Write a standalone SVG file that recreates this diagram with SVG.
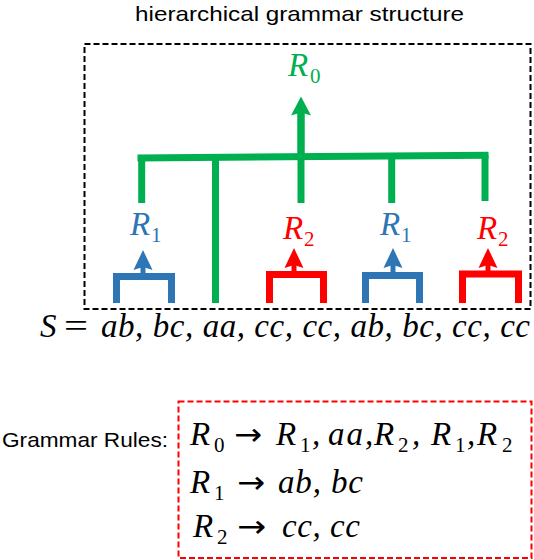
<svg xmlns="http://www.w3.org/2000/svg" xmlns:xlink="http://www.w3.org/1999/xlink" width="534" height="560" viewBox="0 0 534 560">
<style>
.sans{font-family:"Liberation Sans","Noto Sans",Arial,sans-serif;fill:#000}
.m{font-family:"Liberation Serif","DejaVu Serif",serif;font-size:33px;font-style:italic}
.up{font-style:normal}
.arr{font-family:"DejaVu Sans","Liberation Sans",sans-serif;font-size:31px;font-style:normal}
.sub{font-family:"Liberation Serif","DejaVu Serif",serif;font-size:21px;font-style:normal}
.g{stroke:#00B050;fill:none}
.b{stroke:#2E75B6;fill:none}
.r{stroke:#FF0000;fill:none}
.thick{stroke-width:7;stroke-linecap:butt;stroke-linejoin:miter}
.stem{stroke-width:5}
.gt{fill:#00B050}
.bt{fill:#2E75B6}
.rt{fill:#FF0000}
.box{fill:none;stroke-width:2;stroke-dasharray:6 3}
</style>
<defs>
<path id="headS" d="M0 0 L9.5 20 L0 17 L-9.5 20 Z"/>
<path id="headL" d="M0 0 L10 19 L0 16 L-10 19 Z"/>
</defs>

<g id="title">
<text class="sans" x="135" y="20.5" font-size="21" textLength="329" lengthAdjust="spacingAndGlyphs">hierarchical grammar structure</text>
</g>

<g id="structure-frame">
<rect class="box" x="84.5" y="44" width="446" height="265" stroke="#000"/>
</g>

<g id="connectors">
<!-- green top level -->
<line class="g thick" x1="137.5" y1="158" x2="488.5" y2="155.2"/>
<line class="g thick" x1="141.7" y1="158" x2="141.7" y2="203"/>
<line class="g thick" x1="215.5" y1="157.4" x2="215.5" y2="303"/>
<line class="g thick" x1="301" y1="156.7" x2="301" y2="203"/>
<line class="g thick" x1="391.7" y1="156" x2="391.7" y2="203"/>
<line class="g thick" x1="485" y1="155.3" x2="485" y2="201"/>
<line class="g" stroke-width="7.5" x1="301" y1="157" x2="301" y2="110"/>
<use xlink:href="#headL" x="301" y="96.5" class="gt"/>
<!-- blue bracket 1 -->
<path class="b thick" d="M116.5 303 V276.5 H171.5 V303"/>
<line class="b stem" x1="143" y1="274" x2="143" y2="265"/>
<use xlink:href="#headS" x="143" y="250" class="bt"/>
<!-- red bracket 1 -->
<path class="r thick" stroke-width="7.5" d="M269.5 303 V274.5 H323.5 V303"/>
<line class="r stem" x1="294" y1="272" x2="294" y2="263"/>
<use xlink:href="#headS" x="294" y="248" class="rt"/>
<!-- blue bracket 2 -->
<path class="b thick" d="M365.5 303 V275.5 H419.5 V303"/>
<line class="b stem" x1="393" y1="273" x2="393" y2="263"/>
<use xlink:href="#headS" x="393" y="248" class="bt"/>
<!-- red bracket 2 -->
<path class="r thick" stroke-width="7.5" d="M462.5 303 V274 H518.5 V303"/>
<line class="r stem" x1="488" y1="271" x2="488" y2="263"/>
<use xlink:href="#headS" x="488" y="248" class="rt"/>
</g>

<g id="label-R0">
<text class="m" x="288" y="76" fill="#00B050">R</text>
<text class="sub" x="310" y="82.5" fill="#00B050">0</text>
</g>
<g id="label-R1-a">
<text class="m" x="130" y="235" fill="#2E75B6">R</text>
<text class="sub" x="151" y="242" fill="#2E75B6">1</text>
</g>
<g id="label-R2-a">
<text class="m" x="283" y="239" fill="#FF0000">R</text>
<text class="sub" x="304" y="246" fill="#FF0000">2</text>
</g>
<g id="label-R1-b">
<text class="m" x="380" y="235" fill="#2E75B6">R</text>
<text class="sub" x="401" y="242" fill="#2E75B6">1</text>
</g>
<g id="label-R2-b">
<text class="m" x="477" y="239" fill="#FF0000">R</text>
<text class="sub" x="498" y="246" fill="#FF0000">2</text>
</g>

<g id="sequence">
<text class="m" x="40" y="337">S</text>
<text class="m up" x="64" y="337" textLength="24" lengthAdjust="spacingAndGlyphs">=</text>
<text class="m" x="101" y="337" textLength="429">ab, bc, aa, cc, cc, ab, bc, cc, cc</text>
</g>

<g id="grammar-label">
<text class="sans" x="2" y="447" font-size="21" textLength="166" lengthAdjust="spacingAndGlyphs">Grammar Rules:</text>
</g>

<g id="grammar-rules">
<rect class="box" x="178.5" y="401.5" width="353" height="156.5" stroke="#FF0000"/>
<!-- line 1 -->
<text class="m" x="190" y="445">R</text>
<text class="sub" x="214" y="451.5">0</text>
<text class="arr" x="234" y="445" textLength="28" lengthAdjust="spacingAndGlyphs">→</text>
<text class="m" x="276" y="445">R</text>
<text class="sub" x="300" y="451.5">1</text>
<text class="m" x="312" y="445">,</text>
<text class="m" x="328" y="445" textLength="35">aa</text>
<text class="m" x="365" y="445">,</text>
<text class="m" x="374" y="445">R</text>
<text class="sub" x="398" y="451.5">2</text>
<text class="m" x="412" y="445">,</text>
<text class="m" x="431" y="445">R</text>
<text class="sub" x="455" y="451.5">1</text>
<text class="m" x="467" y="445">,</text>
<text class="m" x="477" y="445">R</text>
<text class="sub" x="502" y="451.5">2</text>
<!-- line 2 -->
<text class="m" x="190" y="493">R</text>
<text class="sub" x="214" y="500">1</text>
<text class="arr" x="237" y="493" textLength="28" lengthAdjust="spacingAndGlyphs">→</text>
<text class="m" x="278" y="493" textLength="85">ab, bc</text>
<!-- line 3 -->
<text class="m" x="193" y="537">R</text>
<text class="sub" x="217" y="544">2</text>
<text class="arr" x="237" y="537" textLength="29" lengthAdjust="spacingAndGlyphs">→</text>
<text class="m" x="282" y="537" textLength="78">cc, cc</text>
</g>
</svg>
